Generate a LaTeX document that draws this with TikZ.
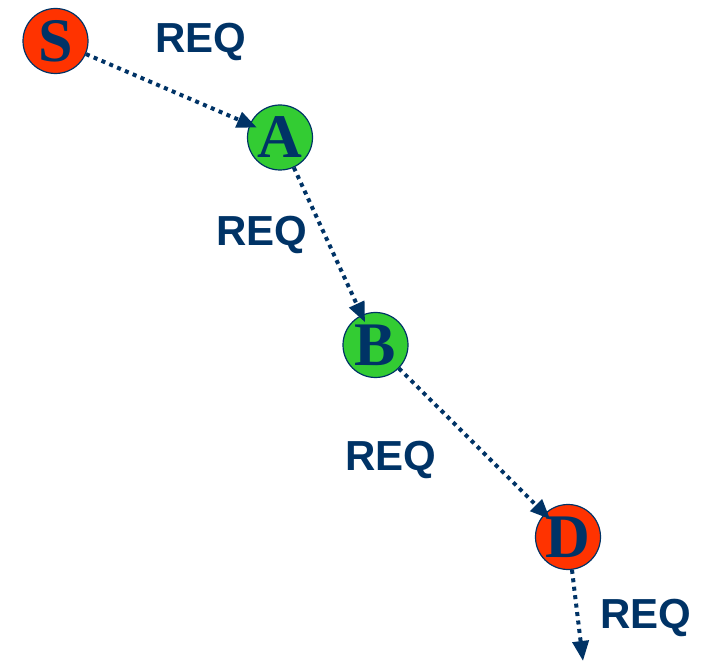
\documentclass[tikz,border=0pt]{standalone}
\usepackage{fontspec}
\setmainfont{Liberation Serif}
\newfontfamily\labelfont{Liberation Sans}
\usetikzlibrary{arrows.meta}
\definecolor{navy}{HTML}{003366}
\definecolor{nodered}{HTML}{FF3300}
\definecolor{nodegreen}{HTML}{33CC33}
\tikzset{
  hop/.style={circle, draw=navy, line width=1.2pt, minimum size=65pt, inner sep=0pt,
    text=navy, font=\fontsize{62}{62}\selectfont\bfseries},
  endpoint/.style={hop, fill=nodered},
  relay/.style={hop, fill=nodegreen},
  req/.style={text=navy, font=\labelfont\fontsize{42}{42}\selectfont\bfseries, anchor=base, inner sep=0pt},
  msg/.style={navy, line width=4pt, dash pattern=on 4pt off 4.5pt,
    -{Triangle[length=20pt,width=16pt]}, shorten >=-8pt}
}
\begin{document}
\begin{tikzpicture}[x=1pt,y=-1pt]
  \useasboundingbox (0,0) rectangle (705,663);
  % route discovery: source, two relays, destination
  \node[endpoint] (S) at (55.5,41) {S};
  \node[relay]    (A) at (280,137.5) {A};
  \node[relay]    (B) at (375.5,345) {B};
  \node[endpoint] (D) at (568,537) {D};
  \coordinate (out) at (583,661);
  % request forwarded hop by hop
  \draw[msg] (S) -- (A);
  \draw[msg] (A) -- (B);
  \draw[msg] (B) -- (D);
  \draw[msg, shorten >=0pt] (D) -- (out);
  % message labels
  \node[req] (r1) at (201,53) {REQ};
  \node[req] (r2) at (262,246) {REQ};
  \node[req] (r3) at (391,470) {REQ};
  \node[req] (r4) at (646,628) {REQ};
\end{tikzpicture}
\end{document}
